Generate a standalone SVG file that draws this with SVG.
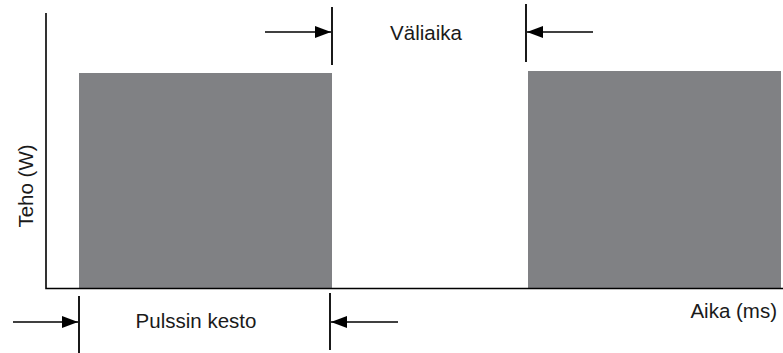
<svg xmlns="http://www.w3.org/2000/svg" width="783" height="353" viewBox="0 0 783 353">
  <style>
    .bar { fill: #808184; }
    .axis { stroke: #000; stroke-width: 1.6; fill: none; }
    .tick { stroke: #000; stroke-width: 1.8; }
    .arrow { stroke: #000; stroke-width: 1.6; marker-end: url(#head); }
    .lbl { font-family: "Liberation Sans", Arial, sans-serif; font-size: 20.5px; fill: #1a1a1a; }
  </style>
  <defs>
    <marker id="head" viewBox="0 0 16 12" refX="16" refY="6" markerWidth="16" markerHeight="12" markerUnits="userSpaceOnUse" orient="auto">
      <path d="M0,0 L16,6 L0,12 Z" fill="#000"/>
    </marker>
  </defs>

  <!-- pulses -->
  <g id="pulse1"><rect class="bar" x="79" y="73" width="253" height="215"/></g>
  <g id="pulse2"><rect class="bar" x="528" y="71" width="253" height="217"/></g>

  <!-- axes -->
  <g id="axes">
    <polyline class="axis" points="46,13 46,288.5 783,288.5"/>
  </g>

  <!-- dimension ticks and arrows -->
  <g id="connectors">
    <line class="tick" x1="332" y1="7" x2="332" y2="65"/>
    <line class="tick" x1="526" y1="4" x2="526" y2="62"/>
    <line class="tick" x1="79" y1="296" x2="79" y2="353"/>
    <line class="tick" x1="330" y1="293" x2="330" y2="350"/>
    <line class="arrow" x1="265" y1="32" x2="331" y2="32"/>
    <line class="arrow" x1="593" y1="32" x2="527" y2="32"/>
    <line class="arrow" x1="13" y1="322" x2="78" y2="322"/>
    <line class="arrow" x1="398" y1="322" x2="331" y2="322"/>
  </g>

  <!-- labels -->
  <g id="labels">
    <text class="lbl" x="426" y="40" text-anchor="middle">Väliaika</text>
    <text class="lbl" x="196" y="328" text-anchor="middle">Pulssin kesto</text>
    <text class="lbl" x="777" y="318" text-anchor="end">Aika (ms)</text>
    <text class="lbl" transform="translate(33,186) rotate(-90)" text-anchor="middle">Teho (W)</text>
  </g>
</svg>
